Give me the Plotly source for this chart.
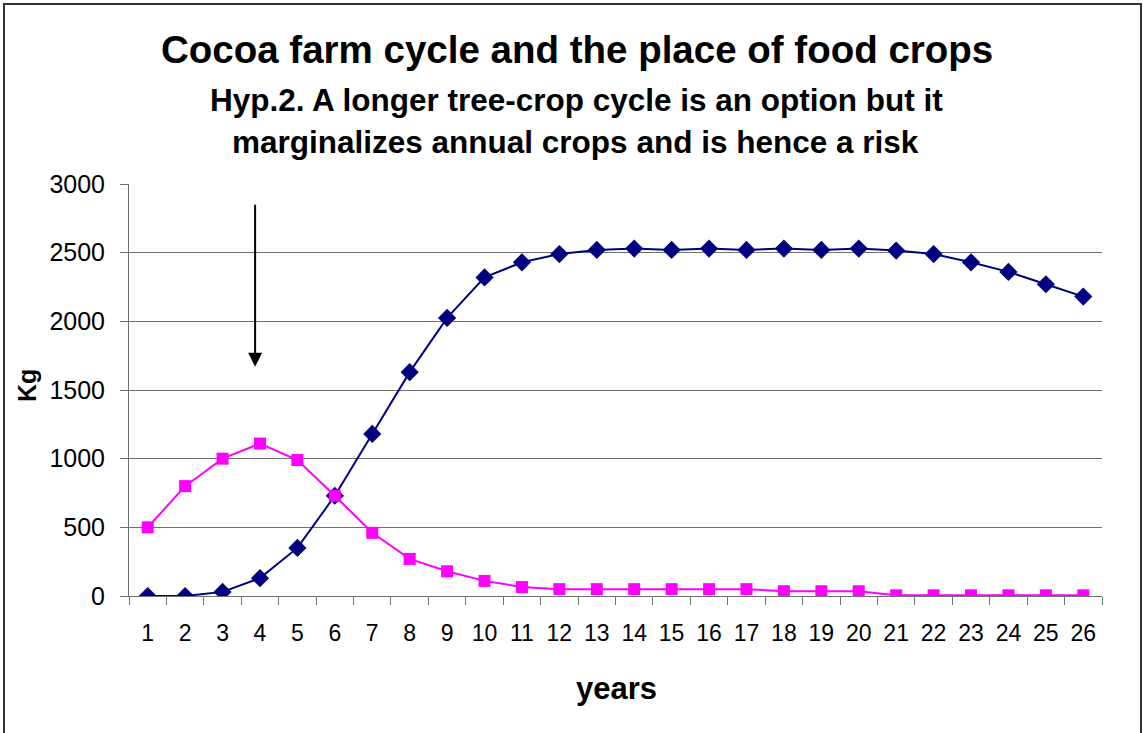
import plotly.graph_objects as go

years = [str(i) for i in range(1, 27)]
cocoa = [0, 0, 30, 130, 350, 730, 1180, 1630, 2025, 2320, 2430, 2490, 2520, 2530,
         2520, 2530, 2520, 2530, 2520, 2530, 2515, 2490, 2430, 2360, 2270, 2180]
food = [500, 800, 1000, 1110, 990, 730, 460, 270, 180, 110, 65, 50, 50, 50,
        50, 50, 50, 35, 35, 35, 5, 5, 5, 5, 5, 5]

title_main = "Cocoa farm cycle and the place of food crops"
title_sub1 = "Hyp.2. A longer tree-crop cycle is an option but it"
title_sub2 = "marginalizes annual crops and is hence a risk"
x_title = "years"
y_title = "Kg"
y_ticks = [0, 500, 1000, 1500, 2000, 2500, 3000]

FONT = "Liberation Sans, Arial, sans-serif"

W, H = 1143, 733
L, R, T, B = 129, 41, 184, 137
PW, PH = W - L - R, H - T - B

def px(xp):
    return (xp - L) / PW

def py(yp):
    return (H - B - yp) / PH

fig = go.Figure()
fig.add_trace(go.Scatter(
    x=years, y=cocoa, mode="lines+markers", name="cocoa",
    line=dict(color="#000080", width=2),
    marker=dict(symbol="diamond", size=14, color="#000080"),
))
fig.add_trace(go.Scatter(
    x=years, y=food, mode="lines+markers", name="food crops",
    line=dict(color="#FF00FF", width=2),
    marker=dict(symbol="square", size=12, color="#FF00FF"),
))

fig.update_layout(
    width=W, height=H,
    margin=dict(l=L, r=R, t=T, b=B, autoexpand=False),
    paper_bgcolor="white", plot_bgcolor="white",
    showlegend=False,
    font=dict(family=FONT, color="black"),
)
fig.update_xaxes(
    type="category", range=[-0.5, 25.5], autorange=False,
    tickson="boundaries", ticks="outside", ticklen=8, tickangle=0,
    tickcolor="#707070", showline=True, linecolor="#707070", linewidth=1,
    showgrid=False, tickfont=dict(size=23, family=FONT), ticklabelstandoff=16,
)
fig.update_yaxes(
    range=[0, 3000], tickvals=y_ticks, ticks="outside", ticklen=8,
    tickcolor="#707070", showline=True, linecolor="#707070", linewidth=1,
    showgrid=True, gridcolor="#707070", gridwidth=1, zeroline=False,
    tickfont=dict(size=25, family=FONT), ticklabelstandoff=10,
)

anns = [
    dict(text="<b>%s</b>" % title_main, x=px(577), y=py(50), size=38.5),
    dict(text="<b>%s</b>" % title_sub1, x=px(576), y=py(100), size=31.5),
    dict(text="<b>%s</b>" % title_sub2, x=px(575), y=py(142), size=31.5),
    dict(text="<b>%s</b>" % x_title, x=px(616), y=py(688), size=31),
]
for a in anns:
    fig.add_annotation(text=a["text"], x=a["x"], y=a["y"], xref="paper", yref="paper",
                       xanchor="center", yanchor="middle", showarrow=False,
                       font=dict(size=a["size"], family=FONT, color="black"))
fig.add_annotation(text="<b>%s</b>" % y_title, x=px(27), y=py(386), xref="paper", yref="paper",
                   xanchor="center", yanchor="middle", showarrow=False, textangle=-90,
                   font=dict(size=25, family=FONT, color="black"))

# arrow pointing down at the food-crop peak period
fig.add_annotation(text="", x=2.87, y=1670, ax=2.87, ay=2860, xref="x", yref="y",
                   axref="x", ayref="y", showarrow=True, arrowhead=2, arrowsize=1.4,
                   arrowwidth=2, arrowcolor="black")

# chart border
fig.add_shape(type="rect", xref="paper", yref="paper",
              x0=px(4), x1=px(1141), y0=py(760), y1=py(4),
              line=dict(color="#333333", width=2), fillcolor="rgba(0,0,0,0)", layer="below")

fig.write_html("out.html", config={"displayModeBar": False},
               post_script="document.body.style.margin='0px';")
